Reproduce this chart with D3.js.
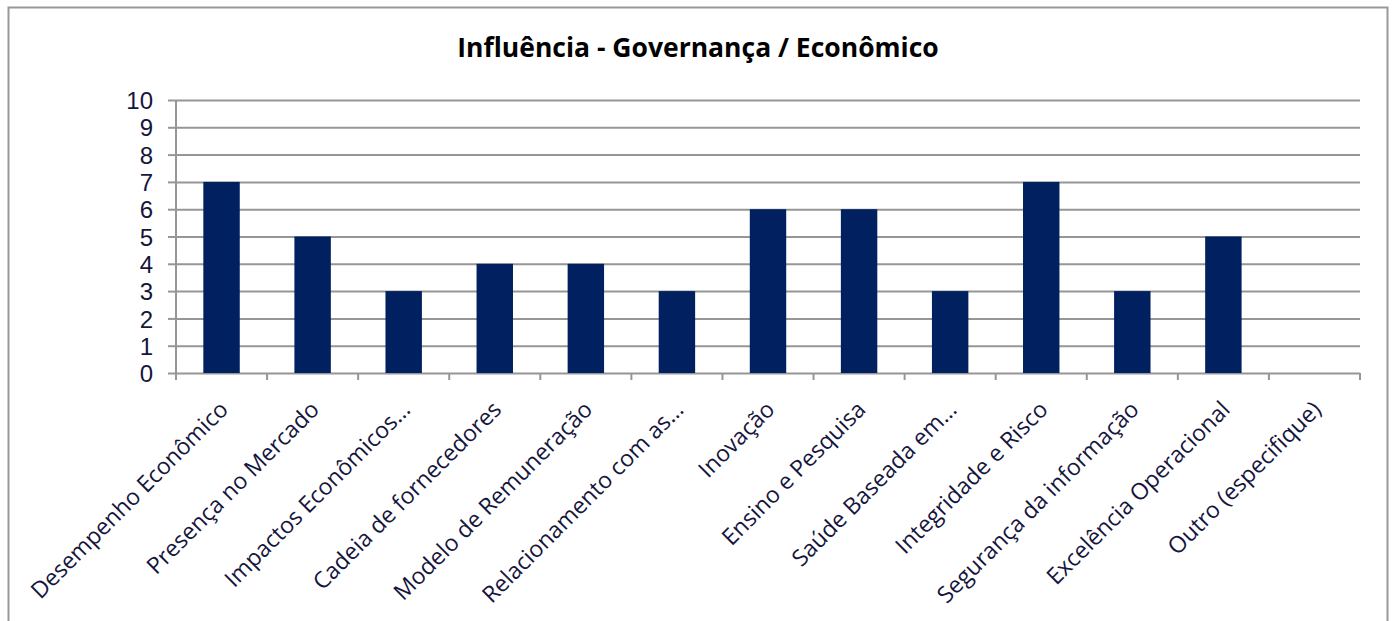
<!DOCTYPE html>
<html>
<head>
<meta charset="utf-8">
<script src="https://cdn.jsdelivr.net/npm/d3@7"></script>
<style>
  body { margin: 0; background: #fff; }
  svg { display: block; font-family: "Open Sans", sans-serif; }
  .grid line { stroke: #969696; stroke-width: 2; }
  .tick text { fill: #15153d; }
</style>
</head>
<body>
<svg></svg>
<script>
// data
var categories = ["Desempenho Econômico", "Presença no Mercado", "Impactos Econômicos…",
  "Cadeia de fornecedores", "Modelo de Remuneração", "Relacionamento com as…",
  "Inovação", "Ensino e Pesquisa", "Saúde Baseada em…", "Integridade e Risco",
  "Segurança da informação", "Excelência Operacional", "Outro (especifique)"];
var values = [7, 5, 3, 4, 4, 3, 6, 6, 3, 7, 3, 5, 0];
var yTicks = [0, 1, 2, 3, 4, 5, 6, 7, 8, 9, 10];
var title = "Influência - Governança / Econômico";

var W = 1394, H = 621;
var margin = { top: 100, left: 176, right: 34, bottom: 248 };
var width = W - margin.left - margin.right;
var height = H - margin.top - margin.bottom;

var svg = d3.select("svg").attr("width", W).attr("height", H);

// chart frame
svg.append("rect")
  .attr("x", 8.5).attr("y", 7.5)
  .attr("width", 1379).attr("height", 640)
  .attr("fill", "none")
  .attr("stroke", "#999")
  .attr("stroke-width", 2);

svg.append("text")
  .attr("x", 698).attr("y", 57)
  .attr("text-anchor", "middle")
  .attr("font-weight", "bold")
  .attr("font-size", 26.5)
  .attr("fill", "#000")
  .text(title);

var g = svg.append("g")
  .attr("transform", "translate(" + margin.left + "," + margin.top + ")");

var x = d3.scaleBand().domain(categories).range([0, width]).padding(0);
var y = d3.scaleLinear().domain([0, 10]).range([height, 0]);

// horizontal gridlines + y ticks
var yaxis = d3.axisLeft(y).tickValues(yTicks).tickSize(8).tickPadding(15).tickFormat(d3.format("d"));
var ya = g.append("g").attr("class", "grid").call(yaxis);
ya.select(".domain").remove();
ya.selectAll(".tick text").attr("font-size", 24).attr("dy", "0.36em");
ya.selectAll(".tick").append("line")
  .attr("x1", 0).attr("x2", width);

// vertical axis line
g.append("line")
  .attr("x1", 0).attr("x2", 0)
  .attr("y1", 0).attr("y2", height + 7)
  .attr("stroke", "#969696").attr("stroke-width", 2);

// bottom tick marks at band boundaries
var bounds = categories.map(function(c) { return x(c); }).concat([width]);
g.selectAll(".xtick").data(bounds).enter().append("line")
  .attr("x1", function(d) { return d; })
  .attr("x2", function(d) { return d; })
  .attr("y1", height).attr("y2", height + 7)
  .attr("stroke", "#969696").attr("stroke-width", 2);

// bars
var barW = x.bandwidth() * 0.4;
g.selectAll(".bar").data(values).enter().append("rect")
  .attr("class", "bar")
  .attr("x", function(d, i) { return x(categories[i]) + (x.bandwidth() - barW) / 2; })
  .attr("y", function(d) { return y(d); })
  .attr("width", barW)
  .attr("height", function(d) { return height - y(d); })
  .attr("fill", "#002060");

// rotated category labels
g.selectAll(".xlabel").data(categories).enter().append("text")
  .attr("class", "xlabel")
  .attr("text-anchor", "end")
  .attr("font-size", 23)
  .attr("fill", "#15153d")
  .attr("transform", function(d) {
    return "translate(" + (x(d) + x.bandwidth() / 2 + 8) + "," + (height + 38) + ") rotate(-45)";
  })
  .text(function(d) { return d; });
</script>
</body>
</html>
